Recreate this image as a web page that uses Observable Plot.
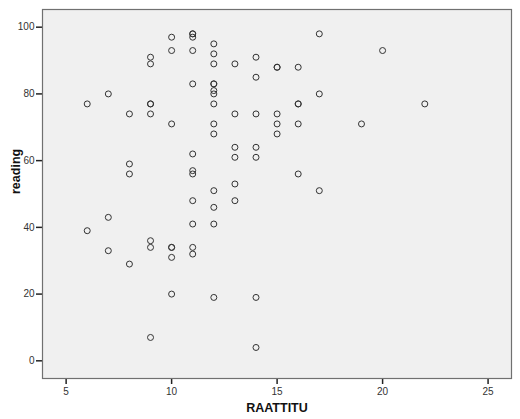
<!DOCTYPE html>
<html>
<head>
<meta charset="utf-8">
<script src="https://cdn.jsdelivr.net/npm/d3@7"></script>
<script src="https://cdn.jsdelivr.net/npm/@observablehq/plot@0.6"></script>
<style>
  html, body { margin: 0; padding: 0; background: #fff; }
  svg { display: block; }
</style>
</head>
<body>
<div id="chart"></div>
<script>
const raattitu = [6,7,8,9,9,9,9,9,10,10,10,11,11,11,11,11,11,11,11,11,12,12,12,12,12,12,12,12,12,12,12,13,13,13,13,13,13,14,14,14,14,14,15,15,15,15,15,16,16,16,16,17,17,20,22,19,16,17,
  7,6,11,12,9,9,10,10,11,11,10,7,8,10,12,14,9,14,12,8,8];
const reading = [77,80,74,91,89,77,77,74,97,93,71,98,98,97,93,83,62,57,56,48,95,92,89,83,83,81,80,77,71,68,51,89,74,64,61,53,48,91,85,74,64,61,88,88,74,71,68,88,77,77,71,98,80,93,77,71,56,51,
  43,39,41,41,36,34,34,34,34,32,31,33,29,20,46,19,7,4,19,59,56];
const xTicks = [5,10,15,20,25];
const yTicks = [0,20,40,60,80,100];

const data = raattitu.map((x, i) => ({x, y: reading[i]}));

const chart = Plot.plot({
  width: 520,
  height: 419,
  marginLeft: 42,
  marginRight: 9,
  marginTop: 9,
  marginBottom: 41,
  style: {fontFamily: "Liberation Sans, Arial, sans-serif", fontSize: "10px", color: "#333", background: "#fff"},
  x: {domain: [3.88, 26.11]},
  y: {domain: [-5.3, 105.3]},
  marks: [
    Plot.frame({fill: "#f0f0f0", stroke: "none"}),
    Plot.axisX(xTicks, {tickSize: 6, tickPadding: 3, stroke: "#222", strokeWidth: 1.5, fill: "#333", label: null, fontSize: 10}),
    Plot.axisY(yTicks, {tickSize: 6, tickPadding: 2, stroke: "#222", strokeWidth: 1.5, fill: "#333", label: null, fontSize: 10}),
    Plot.frame({stroke: "#707070", strokeWidth: 1.2}),
    Plot.dot(data, {x: "x", y: "y", r: 3, stroke: "#333", strokeWidth: 1, fill: "none"}),
    Plot.text(["RAATTITU"], {frameAnchor: "bottom", dy: 33, fontWeight: "bold", fontSize: 12.5, fill: "#111"}),
    Plot.text(["reading"], {frameAnchor: "left", dx: -27, rotate: -90, fontWeight: "bold", fontSize: 12.5, fill: "#111"})
  ]
});
document.getElementById("chart").appendChild(chart);
</script>
</body>
</html>
